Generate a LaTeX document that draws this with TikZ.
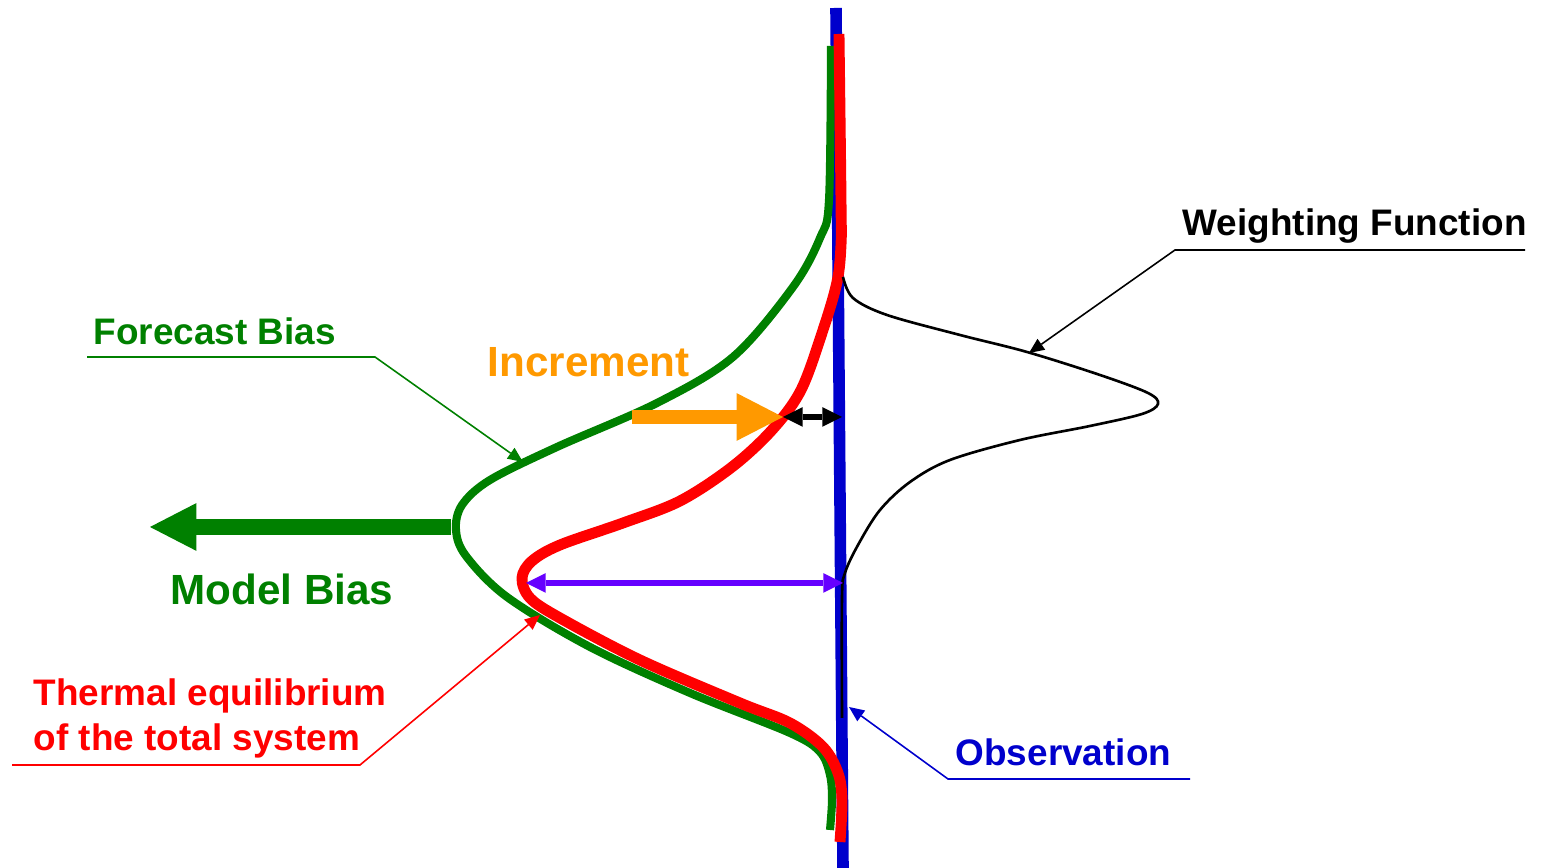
\documentclass[tikz,border=0pt]{standalone}
\usepackage{fontspec}
\setmainfont{Liberation Sans}
\usepackage{xcolor}
\usetikzlibrary{arrows.meta}

\definecolor{biasgreen}{RGB}{0,128,0}
\definecolor{obsblue}{RGB}{0,0,204}
\definecolor{incorange}{RGB}{255,153,0}
\definecolor{gappurple}{RGB}{102,0,255}

\begin{document}
\begin{tikzpicture}[
x=0.01cm,
y=-0.01cm,
lbl/.style={anchor=base west,inner sep=0pt,font=\fontsize{10.5}{12.8}\selectfont\bfseries},
biglbl/.style={anchor=base west,inner sep=0pt,font=\fontsize{12}{14}\selectfont\bfseries},
lead/.style={line width=0.45pt,-{Triangle[length=4.3pt,width=3.8pt,line width=0pt]}},
gaparr/.style={line width=1.5pt,{Triangle[length=5.6pt,width=5.6pt,line width=0pt]}-{Triangle[length=5.6pt,width=5.6pt,line width=0pt]}},
fatarr/.style={-{Triangle[length=13.2pt,width=13.6pt,line width=0pt]}},
profile/.style={line cap=butt,line join=round}
]
\useasboundingbox (0,0) rectangle (1541,868);

\coordinate (obstop) at (836,8);
\coordinate (obsbot) at (843,868);
\draw[obsblue,line width=3.3pt] (obstop) -- (obsbot);

\draw[profile,biasgreen,line width=2.3pt] plot[smooth,tension=0.55] coordinates {(831,46) (829,200) (820,238) (793,287) (733,357) (657,403) (557,447) (490,480) (462,505) (456,530) (466,556) (507,597) (590,647) (690,693) (790,733) (820,752) (830,775) (832,800) (830,830)};
\draw[profile,red,line width=3.1pt] plot[smooth,tension=0.55] coordinates {(839,34) (841,200) (841,245) (837,282) (823,330) (801,390) (772,430) (732,467) (680,501) (623,523) (560,545) (532,561) (522,578) (530,598) (560,618) (640,660) (740,703) (790,723) (823,747) (838,773) (842,800) (840,842)};
\draw[profile,black,line width=0.75pt] plot[smooth,tension=0.55] coordinates {(843,277) (853,298) (887,315) (960,335) (1027,352) (1100,375) (1148,393) (1158,404) (1142,414) (1090,426) (1020,440) (950,460) (910,482) (880,510) (858,545) (845,573) (842,598) (842,718)};

\coordinate (incstart) at (632,417);
\coordinate (inctip) at (783,417);
\coordinate (obsinc) at (842,417);
\draw[fatarr,incorange,line width=4.1pt] (incstart) -- (inctip);
\draw[gaparr,black] (inctip) -- (obsinc);

\coordinate (mbstart) at (451,527);
\coordinate (mbtip) at (150,527);
\draw[fatarr,biasgreen,line width=4.3pt] (mbstart) -- (mbtip);

\coordinate (eqleft) at (526,583);
\coordinate (obseq) at (843,583);
\draw[gaparr,gappurple] (eqleft) -- (obseq);

\node[lbl,black] (wflbl) at (1182,236) {Weighting Function};
\node[lbl,biasgreen] (fblbl) at (93,345) {Forecast Bias};
\node[biglbl,incorange] (inclbl) at (487,377) {Increment};
\node[biglbl,biasgreen] (mblbl) at (170,605) {Model Bias};
\node[lbl,red,align=left,anchor=north west] (thlbl) at (33,678) {Thermal equilibrium\\of the total system};
\node[lbl,obsblue] (obslbl) at (955,766) {Observation};

\coordinate (wfend) at (1525,250);
\coordinate (wfbend) at (1175,250);
\coordinate (wftip) at (1029,353);
\coordinate (fbend) at (87,357);
\coordinate (fbbend) at (375,357);
\coordinate (fbtip) at (523,462);
\coordinate (thend) at (12,765);
\coordinate (thbend) at (360,765);
\coordinate (thtip) at (540,615);
\coordinate (obsend) at (1190,779);
\coordinate (obsbend) at (948,779);
\coordinate (obstip) at (849,707);

\draw[lead,black] (wfend) -- (wfbend) -- (wftip);
\draw[lead,biasgreen] (fbend) -- (fbbend) -- (fbtip);
\draw[lead,red] (thend) -- (thbend) -- (thtip);
\draw[lead,obsblue] (obsend) -- (obsbend) -- (obstip);
\end{tikzpicture}
\end{document}
